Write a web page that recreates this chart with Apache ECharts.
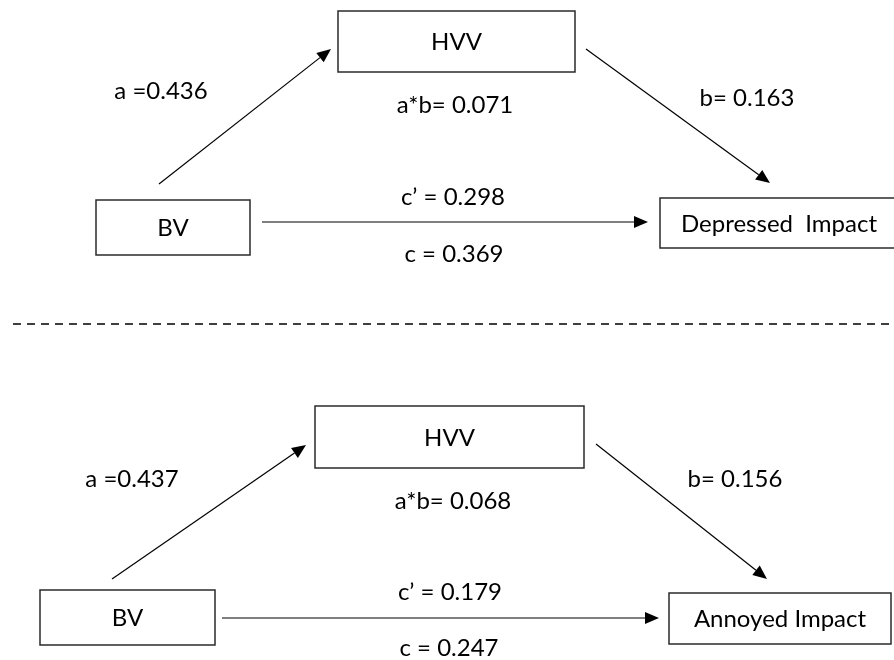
<!DOCTYPE html>
<html>
<head>
<meta charset="utf-8">
<script src="https://cdn.jsdelivr.net/npm/echarts@6/dist/echarts.min.js"></script>
<style>
  html, body { margin: 0; padding: 0; background: #fff; }
  #chart { width: 894px; height: 660px; }
</style>
</head>
<body>
<div id="chart"></div>
<script>
// ---- Diagram content ----
const nodeNames = ['HVV', 'BV', 'Depressed  Impact', 'HVV', 'BV', 'Annoyed Impact'];
// box rectangles in diagram coordinates: [x, y, width, height]
const nodeBoxes = [
  [338, 11, 237, 61],
  [96, 200, 154, 55],
  [660, 198, 240, 50],
  [315, 406, 269, 62],
  [40, 590, 175, 55],
  [669, 593, 222, 51]
];
// path coefficient labels
const pathLabels = [
  'a =0.436', 'a*b= 0.071', 'b= 0.163', 'c\u2019 = 0.298', 'c = 0.369',
  'a =0.437', 'a*b= 0.068', 'b= 0.156', 'c\u2019 = 0.179', 'c = 0.247'
];
const pathLabelPos = [
  [161, 91], [455, 105], [747, 98], [453, 197], [454, 254],
  [132, 479], [453, 501], [735, 479], [450, 592], [449, 648]
];
// arrows: [x0, y0, x1, y1]
const arrows = [
  [159, 184, 331, 49],
  [586, 49, 770, 183],
  [262, 222, 648, 222],
  [112, 579, 306, 445],
  [596, 444, 767, 579],
  [222, 618, 659, 618]
];
// separator
const separator = [[13, 324, 894, 324]];

const FONT = '24px Lato, "Open Sans", sans-serif';

const chart = echarts.init(document.getElementById('chart'), null, { renderer: 'canvas' });

const option = {
  animation: false,
  backgroundColor: '#ffffff',
  grid: { left: 0, right: 0, top: 0, bottom: 0 },
  xAxis: { type: 'value', min: 0, max: 894, show: false },
  yAxis: { type: 'value', min: 0, max: 660, inverse: true, show: false },
  series: [
    {
      type: 'custom',
      name: 'boxes',
      data: nodeBoxes.map((b, i) => [b[0], b[1], b[2], b[3], i]),
      renderItem: function (params, api) {
        const x = api.value(0), y = api.value(1), w = api.value(2), h = api.value(3);
        const p0 = api.coord([x, y]);
        const p1 = api.coord([x + w, y + h]);
        const idx = api.value(4);
        return {
          type: 'group',
          children: [
            {
              type: 'rect',
              shape: { x: p0[0], y: p0[1], width: p1[0] - p0[0], height: p1[1] - p0[1] },
              style: { fill: '#ffffff', stroke: '#2b2b2b', lineWidth: 1.5 }
            },
            {
              type: 'text',
              style: {
                text: nodeNames[idx],
                x: (p0[0] + Math.min(p1[0], 894)) / 2 + (idx === 2 ? 2 : 0),
                y: (p0[1] + p1[1]) / 2 + 1,
                align: 'center', verticalAlign: 'middle',
                font: FONT, fill: '#000000'
              }
            }
          ]
        };
      }
    },
    {
      type: 'custom',
      name: 'arrows',
      data: arrows,
      renderItem: function (params, api) {
        const a = api.coord([api.value(0), api.value(1)]);
        const b = api.coord([api.value(2), api.value(3)]);
        const dx = b[0] - a[0], dy = b[1] - a[1];
        const len = Math.sqrt(dx * dx + dy * dy);
        const ux = dx / len, uy = dy / len;
        const L = 14, W = 12;
        const bx = b[0] - ux * L, by = b[1] - uy * L;
        const nx = -uy, ny = ux;
        return {
          type: 'group',
          children: [
            {
              type: 'line',
              shape: { x1: a[0], y1: a[1], x2: bx, y2: by },
              style: { stroke: '#000000', lineWidth: 1.2 }
            },
            {
              type: 'polygon',
              shape: { points: [[b[0], b[1]], [bx + nx * W / 2, by + ny * W / 2], [bx - nx * W / 2, by - ny * W / 2]] },
              style: { fill: '#000000' }
            }
          ]
        };
      }
    },
    {
      type: 'custom',
      name: 'labels',
      data: pathLabelPos.map((p, i) => [p[0], p[1], i]),
      renderItem: function (params, api) {
        const p = api.coord([api.value(0), api.value(1)]);
        return {
          type: 'text',
          style: {
            text: pathLabels[api.value(2)],
            x: p[0], y: p[1],
            align: 'center', verticalAlign: 'middle',
            font: FONT, fill: '#000000'
          }
        };
      }
    },
    {
      type: 'custom',
      name: 'separator',
      data: separator,
      renderItem: function (params, api) {
        const a = api.coord([api.value(0), api.value(1)]);
        const b = api.coord([api.value(2), api.value(3)]);
        return {
          type: 'line',
          shape: { x1: a[0], y1: a[1], x2: b[0], y2: b[1] },
          style: { stroke: '#000000', lineWidth: 1.3, lineDash: [8, 6] }
        };
      }
    }
  ]
};

chart.setOption(option);
</script>
</body>
</html>
